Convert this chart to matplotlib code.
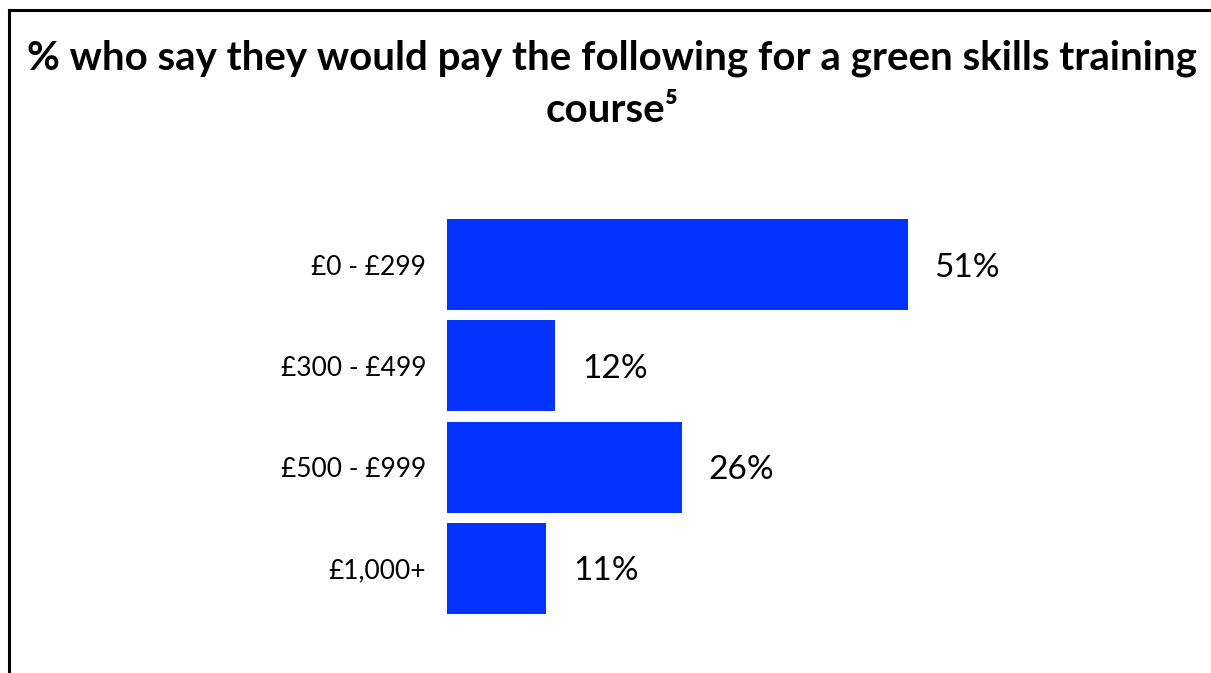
import matplotlib
matplotlib.use("Agg")
import matplotlib.pyplot as plt
from matplotlib.lines import Line2D

# survey answers: price bands and share of respondents
categories = ["£0 - £299", "£300 - £499", "£500 - £999", "£1,000+"]
shares = [51, 12, 26, 11]

plt.rcParams['font.family'] = ['Lato', 'DejaVu Sans']

W, H = 1211, 673
fig = plt.figure(figsize=(W / 100, H / 100), dpi=100)

# axes placed so that the bars start at x=447px and 1% ~ 9px
ax = fig.add_axes([447 / W, 59 / H, 700 / W, 395 / H])
ax.barh(range(len(categories)), shares, height=0.9, color='#0433ff')
ax.set_xlim(0, 700 / 9.04)
ax.set_ylim(len(categories) - 0.55, -0.45)

ax.set_yticks(range(len(categories)))
ax.set_yticklabels(categories, fontsize=19, va='center_baseline')
ax.tick_params(axis='y', length=0, pad=15)
ax.set_xticks([])
for s in ax.spines.values():
    s.set_visible(False)

value_texts = ax.bar_label(ax.containers[0], labels=[f"{v}%" for v in shares],
                           padding=19, fontsize=24)
for t in value_texts:
    t.set_verticalalignment('center_baseline')

# title, two lines
fig.text(612 / W, 1 - 58 / H,
         "% who say they would pay the following for a green skills training",
         ha='center', va='center', fontsize=29, fontweight='bold')
fig.text(612 / W, 1 - 111 / H, "course\u2075",
         ha='center', va='center', fontsize=29, fontweight='bold')

# frame lines along the top and left edges
fig.add_artist(Line2D([8.5 / W, 8.5 / W], [0, 1 - 10 / H], color='black', lw=2.2))
fig.add_artist(Line2D([8.5 / W, 1], [1 - 10 / H, 1 - 10 / H], color='black', lw=2.2))

fig.savefig("out.png", dpi=100)
